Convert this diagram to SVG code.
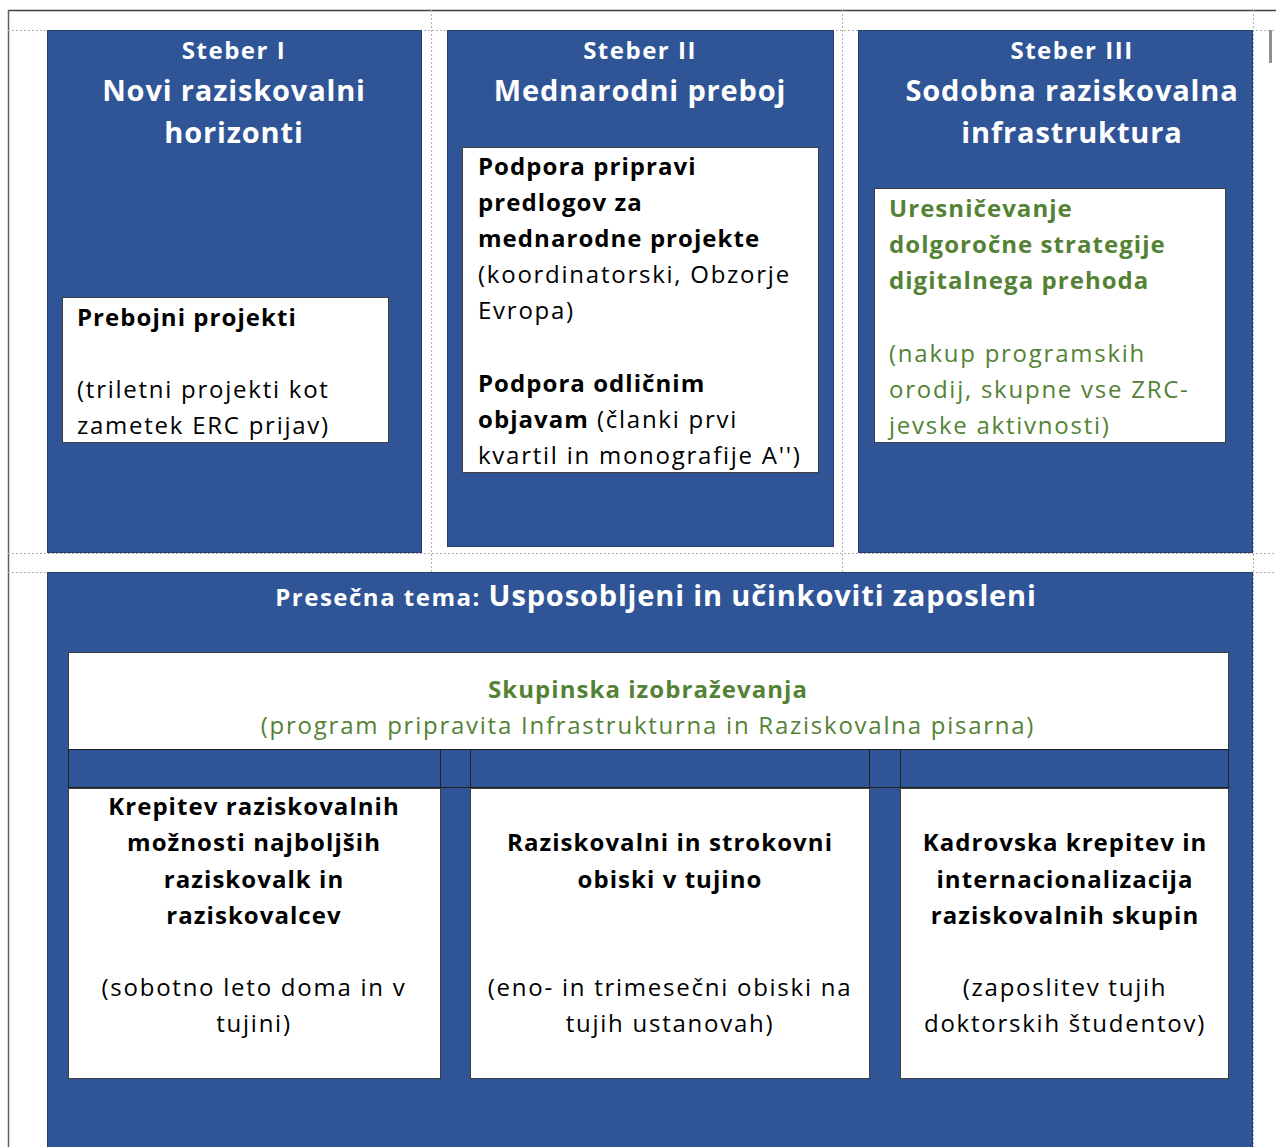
<svg xmlns="http://www.w3.org/2000/svg" width="1276" height="1147" viewBox="0 0 1276 1147">
<style>
.t{font-family:"Open Sans","Noto Sans","Liberation Sans",sans-serif}
.blue{fill:#2F5597;stroke:#24406f;stroke-width:1}
.wbox{fill:#fff;stroke:#404040;stroke-width:1}
.dot{stroke:#b0b0b0;stroke-width:1;stroke-dasharray:2 2;fill:none}
.hw{fill:#fff;font-weight:bold;text-anchor:middle}
.h1{font-size:24px;letter-spacing:1.5px}
.h2{font-size:29px;letter-spacing:0.85px}
.body{font-size:24px;fill:#000;letter-spacing:1.75px}
.b{font-weight:bold;letter-spacing:1.05px}
.g{fill:#548235}
.c{text-anchor:middle}
</style>
<rect width="1276" height="1147" fill="#fff"/>
<g id="frame">
<line x1="8" y1="10.5" x2="1276" y2="10.5" stroke="#404040" stroke-width="1.5"/>
<line x1="8.5" y1="10" x2="8.5" y2="1147" stroke="#606060" stroke-width="1.5"/>
<line class="dot" x1="8" y1="30.5" x2="1276" y2="30.5"/>
<line class="dot" x1="8" y1="553.5" x2="1276" y2="553.5"/>
<line class="dot" x1="8" y1="572.5" x2="1276" y2="572.5"/>
<line class="dot" x1="431.5" y1="10" x2="431.5" y2="572"/>
<line class="dot" x1="842.5" y1="10" x2="842.5" y2="572"/>
<line class="dot" x1="1253.5" y1="10" x2="1253.5" y2="1147"/>
<rect x="1269" y="30" width="3" height="33" fill="#909090"/>
</g>
<g id="steber1">
<rect class="blue" x="47.5" y="30.5" width="374" height="522"/>
<text class="t hw h1" x="234" y="59">Steber I</text>
<text class="t hw h2" x="234" y="101">Novi raziskovalni</text>
<text class="t hw h2" x="234" y="143">horizonti</text>
<rect class="wbox" x="62.5" y="297.5" width="326" height="145"/>
<text class="t body b" x="77" y="326">Prebojni projekti</text>
<text class="t body" x="77" y="398">(triletni projekti kot</text>
<text class="t body" x="77" y="434">zametek ERC prijav)</text>
</g>
<g id="steber2">
<rect class="blue" x="447.5" y="30.5" width="386" height="516"/>
<text class="t hw h1" x="640" y="59">Steber II</text>
<text class="t hw h2" x="640" y="101">Mednarodni preboj</text>
<rect class="wbox" x="462.5" y="147.5" width="356" height="325"/>
<text class="t body b" x="478" y="175">Podpora pripravi</text>
<text class="t body b" x="478" y="211">predlogov za</text>
<text class="t body b" x="478" y="247">mednarodne projekte</text>
<text class="t body" x="478" y="283">(koordinatorski, Obzorje</text>
<text class="t body" x="478" y="319">Evropa)</text>
<text class="t body b" x="478" y="392">Podpora odličnim</text>
<text class="t body" x="478" y="428"><tspan class="b">objavam</tspan> (članki prvi</text>
<text class="t body" x="478" y="464">kvartil in monografije A'')</text>
</g>
<g id="steber3">
<rect class="blue" x="858.5" y="30.5" width="394" height="522"/>
<text class="t hw h1" x="1072" y="59">Steber III</text>
<text class="t hw h2" x="1072" y="101">Sodobna raziskovalna</text>
<text class="t hw h2" x="1072" y="143">infrastruktura</text>
<rect class="wbox" x="874.5" y="188.5" width="351" height="254"/>
<text class="t body b g" x="889" y="217">Uresničevanje</text>
<text class="t body b g" x="889" y="253">dolgoročne strategije</text>
<text class="t body b g" x="889" y="289">digitalnega prehoda</text>
<text class="t body g" x="889" y="362">(nakup programskih</text>
<text class="t body g" x="889" y="398">orodij, skupne vse ZRC-</text>
<text class="t body g" x="889" y="434">jevske aktivnosti)</text>
</g>
<g id="presecna">
<rect class="blue" x="47.5" y="572.5" width="1205" height="580"/>
<text class="t" x="656" y="606" text-anchor="middle" fill="#fff" font-weight="bold"><tspan font-size="24px" letter-spacing="1.5px">Presečna tema: </tspan><tspan font-size="29px" letter-spacing="0.85px">Usposobljeni in učinkoviti zaposleni</tspan></text>
</g>
<g id="skupinska">
<rect class="wbox" x="68.5" y="652.5" width="1160" height="97"/>
<text class="t body b g c" x="648" y="698">Skupinska izobraževanja</text>
<text class="t body g c" x="648" y="734">(program pripravita Infrastrukturna in Raziskovalna pisarna)</text>
</g>
<g id="band">
<rect x="68.5" y="749.5" width="1160" height="38" fill="#2F5597" stroke="#202020" stroke-width="1"/>
<line x1="440.5" y1="749" x2="440.5" y2="1078" stroke="#202020"/>
<line x1="470.5" y1="749" x2="470.5" y2="1078" stroke="#202020"/>
<line x1="869.5" y1="749" x2="869.5" y2="1078" stroke="#202020"/>
<line x1="900.5" y1="749" x2="900.5" y2="1078" stroke="#202020"/>
</g>
<g id="cell1">
<rect class="wbox" x="68.5" y="788.5" width="372" height="290"/>
<text class="t body b c" x="254" y="815">Krepitev raziskovalnih</text>
<text class="t body b c" x="254" y="851">možnosti najboljših</text>
<text class="t body b c" x="254" y="888">raziskovalk in</text>
<text class="t body b c" x="254" y="924">raziskovalcev</text>
<text class="t body c" x="254" y="996">(sobotno leto doma in v</text>
<text class="t body c" x="254" y="1032">tujini)</text>
</g>
<g id="cell2">
<rect class="wbox" x="470.5" y="788.5" width="399" height="290"/>
<text class="t body b c" x="670" y="851">Raziskovalni in strokovni</text>
<text class="t body b c" x="670" y="888">obiski v tujino</text>
<text class="t body c" x="670" y="996">(eno- in trimesečni obiski na</text>
<text class="t body c" x="670" y="1032">tujih ustanovah)</text>
</g>
<g id="cell3">
<rect class="wbox" x="900.5" y="788.5" width="328" height="290"/>
<text class="t body b c" x="1065" y="851">Kadrovska krepitev in</text>
<text class="t body b c" x="1065" y="888">internacionalizacija</text>
<text class="t body b c" x="1065" y="924">raziskovalnih skupin</text>
<text class="t body c" x="1065" y="996">(zaposlitev tujih</text>
<text class="t body c" x="1065" y="1032">doktorskih študentov)</text>
</g>
<g id="connectors"></g>
</svg>
